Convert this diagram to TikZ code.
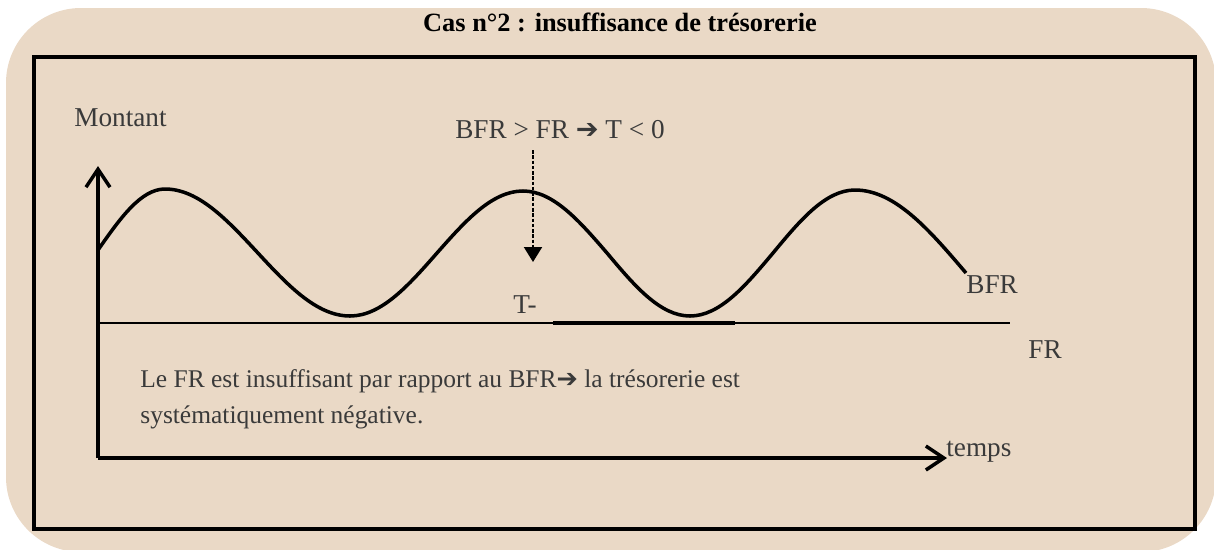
\documentclass[tikz,border=0pt]{standalone}
\usepackage{fontspec}
\setmainfont{Liberation Serif}
\newfontfamily\arrowfont{DejaVu Sans}
\usetikzlibrary{arrows.meta}
\definecolor{beige}{HTML}{EAD9C6}
\definecolor{inkgray}{HTML}{3A3A3A}
\newcommand\lblsize{\fontsize{15.5}{19}\selectfont}
\newcommand\notesize{\fontsize{14.5}{20.5}\selectfont}

\begin{document}
\begin{tikzpicture}[
  x=0.02cm, y=-0.02cm,
  lbl/.style={font=\lblsize, text=inkgray, inner sep=0pt},
  axis/.style={-{Straight Barb[length=3.6mm, width=4.8mm]}, line width=2pt, black},
  curve/.style={line width=2pt, black},
  frline/.style={line width=1.5pt, black},
  dasharr/.style={-{Triangle[length=3mm, width=3.6mm]}, dash pattern=on 2pt off 1pt, line width=1.2pt, black},
]
\useasboundingbox (0,0) rectangle (1214,549);

% Background
\fill[beige, rounded corners=1.5cm] (6,8) rectangle (1216,552);

% Title
\node[font=\fontsize{15}{18}\selectfont\bfseries, inner sep=0pt] (title) at (620,22)
  {Cas n°2 : insuffisance de trésorerie};

% Frame
\draw[line width=1.8pt] (34,57) rectangle (1195,529);
\draw[line width=2.6pt] (34,57) -- (1195,57);

% =============================================
% Axes
% =============================================
\coordinate (origin) at (98,458);
\coordinate (y-top) at (98,166);
\coordinate (x-end) at (947,458);
\draw[axis] (origin) -- (y-top);
\draw[axis] (origin) -- (x-end);

\node[lbl, anchor=west] (montant) at (74,118) {Montant};
\node[lbl, anchor=west] (temps) at (946,452) {temps};

% =============================================
% FR (flat) and BFR (wave)
% =============================================
\coordinate (fr-start) at (98,323);
\coordinate (fr-end) at (1010,323);
\draw[frline] (fr-start) -- (fr-end);
\draw[line width=2.6pt] (553,323) -- (735,323);
\node[lbl, anchor=west] (fr) at (1028,350) {FR};

\draw[curve] (98,250) sin (165,189) cos (257,252) sin (350,316)
  cos (437,253) sin (523,191) cos (607,253) sin (690,316)
  cos (773,253) sin (855,190) cos (966,273);
\node[lbl, anchor=west] (bfr) at (966,285) {BFR};

% =============================================
% Annotation
% =============================================
\node[lbl] (cond) at (560,130) {BFR > FR {\arrowfont ➔} T < 0};
\coordinate (cond-start) at (533,150);
\coordinate (cond-tip) at (533,262);
\draw[dasharr] (cond-start) -- (cond-tip);

\node[lbl] (tminus) at (525,305) {T-};

\node[lbl, font=\notesize, anchor=north west, align=left] (note) at (140,369)
  {Le FR est insuffisant par rapport au BFR{\arrowfont ➔} la trésorerie est\\
   systématiquement négative.};

\end{tikzpicture}
\end{document}
